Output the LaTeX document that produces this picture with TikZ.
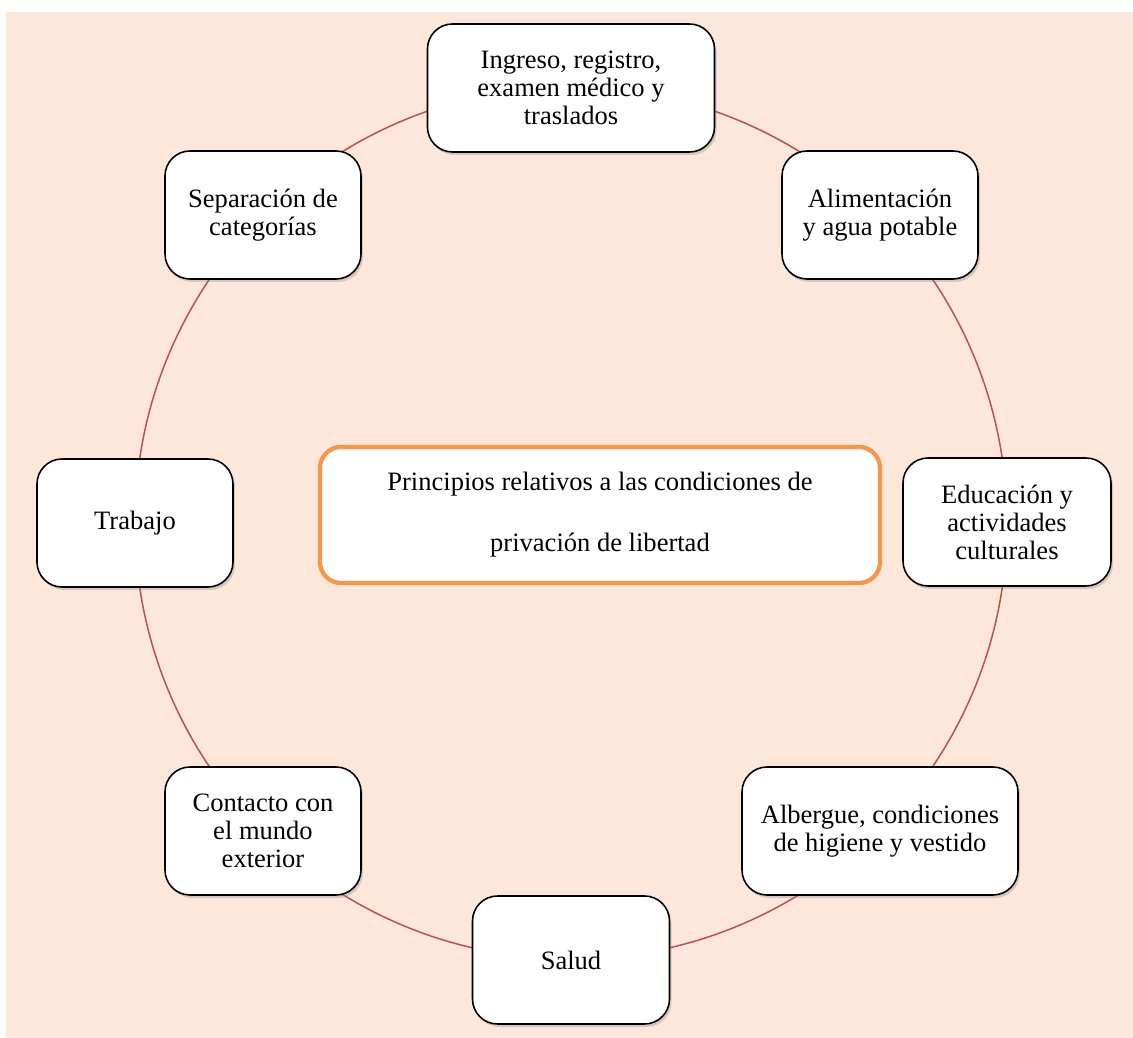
\documentclass[tikz,border=0pt]{standalone}
\usepackage{fontspec}
\setmainfont{Liberation Serif}
\usepackage{tikz}
\usetikzlibrary{shadows}

\definecolor{peach}{RGB}{252,231,218}
\definecolor{ringred}{RGB}{192,80,77}
\definecolor{orangeline}{RGB}{247,150,70}

\begin{document}
\begin{tikzpicture}[
    topic/.style={draw=black, line width=0.9pt, fill=white, rounded corners=0.5cm,
      align=center, inner sep=2pt, minimum height=2.56cm,
      font=\fontsize{15.1}{15.9}\selectfont,
      drop shadow={shadow xshift=0.04cm, shadow yshift=-0.06cm, opacity=0.3}},
    principle/.style={draw=orangeline, line width=2.4pt, fill=white, rounded corners=0.42cm,
      align=center, minimum width=11.2cm, minimum height=2.72cm,
      font=\fontsize{15.1}{34.7}\selectfont}
  ]
  \useasboundingbox (-11.42,-10.30) rectangle (11.24,10.46);
  \fill[peach] (-11.30,-10.30) rectangle (11.24,10.22);

  \coordinate (ring) at (0,0);
  \draw[ringred, line width=0.85pt] (ring) circle (8.72cm);

  \node[principle] (main) at (0.58,0.16)
    {Principios relativos a las condiciones de\\privación de libertad};

  \node[topic, minimum width=5.74cm] (ingreso) at (0,8.7)
    {Ingreso, registro,\\examen médico y\\traslados};
  \node[topic, minimum width=3.92cm] (alim) at (6.18,6.16)
    {Alimentación\\y agua potable};
  \node[topic, minimum width=4.16cm] (educ) at (8.72,0.02)
    {Educación y\\actividades\\culturales};
  \node[topic, minimum width=5.52cm] (albergue) at (6.18,-6.16)
    {Albergue, condiciones\\de higiene y vestido};
  \node[topic, minimum width=3.94cm] (salud) at (0,-8.74)
    {Salud};
  \node[topic, minimum width=3.92cm] (contacto) at (-6.16,-6.16)
    {Contacto con\\el mundo\\exterior};
  \node[topic, minimum width=3.92cm] (trabajo) at (-8.72,0)
    {Trabajo};
  \node[topic, minimum width=3.92cm] (separa) at (-6.16,6.16)
    {Separación de\\categorías};
\end{tikzpicture}
\end{document}
